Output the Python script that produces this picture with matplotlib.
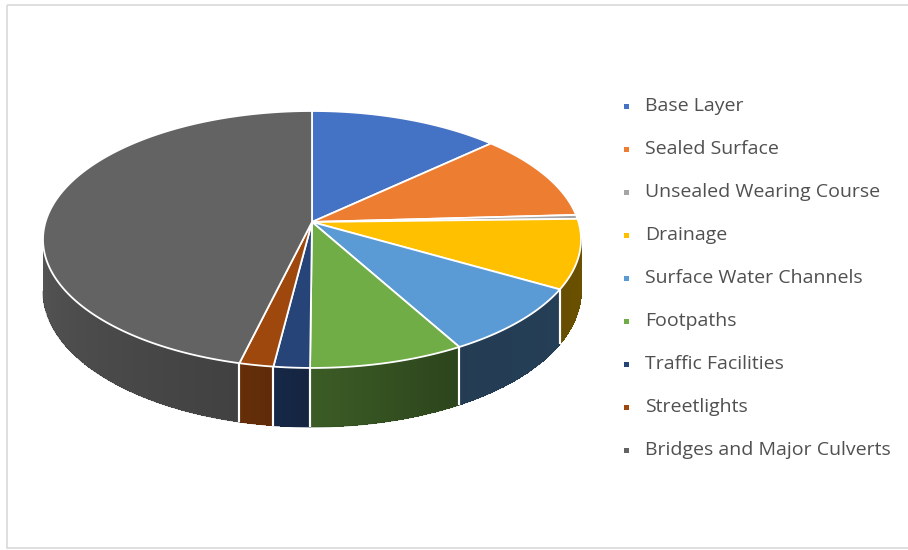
import numpy as np
import matplotlib.pyplot as plt
from matplotlib.patches import Polygon, Rectangle
from matplotlib.collections import PolyCollection
from matplotlib.colors import to_rgb

labels = ["Base Layer", "Sealed Surface", "Unsealed Wearing Course", "Drainage",
          "Surface Water Channels", "Footpaths", "Traffic Facilities", "Streetlights",
          "Bridges and Major Culverts"]
shares = [13.1, 11.0, 0.5, 8.7, 8.6, 8.2, 1.9, 1.8, 46.2]
colors = ["#4472C4", "#ED7D31", "#A5A5A5", "#FFC000", "#5B9BD5",
          "#70AD47", "#264478", "#9E480E", "#636363"]

# pie geometry (pixels), tilted disc seen with a little perspective
cx, cy = 312, 222
rx, ry = 266.5, 126.1
persp = 0.136
depth = 51


def project(theta, drop=0.0):
    t = np.radians(theta)
    w = 1 + persp * np.cos(t)
    x = cx + rx * np.sin(t) / w
    y = cy - ry * np.cos(t) / w + drop / w
    return x, y


def shade(rgb, theta):
    # side walls get darker towards the right, lighter towards the left
    f = np.interp(theta, [95, 150, 180, 195, 265], [0.42, 0.39, 0.53, 0.66, 0.86])
    return tuple(c * f for c in rgb)


fig = plt.figure(figsize=(9.08, 5.5), dpi=100)
ax = fig.add_axes([0, 0, 1, 1])
ax.set_xlim(0, 908)
ax.set_ylim(550, 0)
ax.axis("off")

ax.add_patch(Rectangle((7, 5), 930, 543, fill=False, edgecolor="#D9D9D9", lw=1.2))

angles = np.concatenate([[0], np.cumsum(shares) / sum(shares) * 360])
wall_lo = np.degrees(np.arccos(-persp))
wall_hi = 360 - wall_lo

# outer wall, drawn in thin strips so the shading can follow the curve
for i, col in enumerate(colors):
    a0, a1 = max(angles[i], wall_lo), min(angles[i + 1], wall_hi)
    if a1 <= a0:
        continue
    rgb = to_rgb(col)
    steps = np.linspace(a0, a1, max(2, int((a1 - a0) * 2) + 1))
    quads, fills = [], []
    for s0, s1 in zip(steps[:-1], steps[1:]):
        x0, y0 = project(s0)
        x1, y1 = project(s1)
        _, b0 = project(s0, depth)
        _, b1 = project(s1, depth)
        quads.append([(x0, y0), (x1 + 0.4, y1), (x1 + 0.4, b1), (x0, b0)])
        fills.append(shade(rgb, (s0 + s1) / 2))
    ax.add_collection(PolyCollection(quads, facecolors=fills, edgecolors="none",
                                     antialiaseds=False))
    # soft lower rim
    tt = np.linspace(a0, a1, 60)
    bx, by = project(tt, depth)
    ax.plot(bx, by, color=shade(rgb, (a0 + a1) / 2), lw=0.8, alpha=0.6)
    for a in (angles[i], angles[i + 1]):
        if wall_lo < a < wall_hi:
            x, y = project(a)
            _, b = project(a, depth)
            ax.plot([x, x], [y, b], color="white", lw=1.5, solid_capstyle="butt")

# top faces
for i, col in enumerate(colors):
    t = np.linspace(angles[i], angles[i + 1], max(2, int(angles[i + 1] - angles[i]) * 2 + 2))
    xs, ys = project(t)
    pts = [(cx, cy)] + list(zip(xs, ys))
    ax.add_patch(Polygon(pts, closed=True, facecolor=col, edgecolor="white",
                         lw=1.3, joinstyle="round"))

# legend
for i, (lab, col) in enumerate(zip(labels, colors)):
    y = 106 + 43 * i
    ax.add_patch(Rectangle((624, y - 2.5), 5, 5, facecolor=col, edgecolor="none"))
    ax.text(645, y, lab, fontsize=14, family="Open Sans", color="#505050",
            va="center", ha="left")

fig.savefig("out.png", dpi=100)
